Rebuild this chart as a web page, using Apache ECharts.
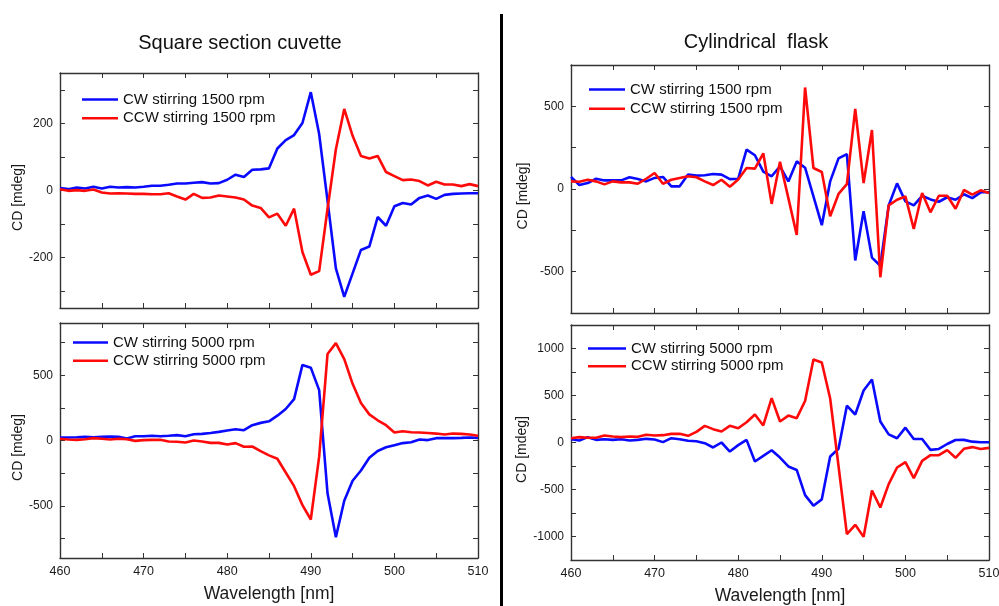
<!DOCTYPE html>
<html><head><meta charset="utf-8">
<script src="https://cdn.jsdelivr.net/npm/echarts@6/dist/echarts.min.js"></script>
<style>html,body{margin:0;padding:0;background:#fff}#c{width:999px;height:606px}</style>
</head><body><div id="c"></div>
<script>
// ---------- data ----------
const wavelengths = [460,461,462,463,464,465,466,467,468,469,470,471,472,473,474,475,476,477,478,479,480,481,482,483,484,485,486,487,488,489,490,491,492,493,494,495,496,497,498,499,500,501,502,503,504,505,506,507,508,509,510];

const cuvetteCW1500  = [7,4,9,6,11,6,11,9,10,9, 11,14,14,17,21,21,23,25,21,22, 32,47,40,62,63,66,125,150,165,201, 293,168,-30,-232,-317,-247,-177,-167,-79,-105, -47,-37,-42,-22,-15,-25,-13,-10,-9,-8,-8];
const cuvetteCCW1500 = [4,-1,1,-1,3,-6,-9,-8,-9,-10, -10,-11,-11,-8,-18,-27,-10,-22,-21,-15, -18,-21,-27,-45,-52,-80,-69,-105,-54,-183, -251,-240,-55,123,243,163,103,95,103,55, 43,31,33,28,15,26,18,18,13,19,13];
const cuvetteCW5000  = [23,23,25,28,25,28,30,28,15,33, 33,36,33,36,41,33,48,51,58,66, 76,86,79,117,135,147,190,241,317,579, 558,386,-404,-741,-462,-308,-230,-132,-80,-52, -36,-20,-13,8,3,18,18,18,20,23,20];
const cuvetteCCW5000 = [13,8,5,10,18,13,8,13,10,-3, 3,5,5,-8,-10,-15,0,-8,-18,-18, -30,-20,-48,-46,-81,-114,-140,-245,-350,-495, -605,-124,662,746,624,434,287,200,155,117, 61,71,63,61,58,53,46,53,51,46,36];
const flaskCW1500    = [73,24,36,62,52,52,52,71,60,46, 67,73,16,16,87,81,83,91,87,60, 62,238,204,105,77,137,46,167,129,-45, -219,46,185,211,-432,-135,-415,-464,-100,34, -75,-99,-41,-63,-77,-50,-65,-32,-55,-20,-20];
const flaskCCW1500   = [46,44,56,46,28,46,40,40,32,62, 97,32,56,67,77,71,46,24,56,14, 58,127,123,216,-90,165,-55,-278,614,127, 103,-165,-30,30,485,36,357,-534,-99,-65, -45,-242,-24,-141,-41,-41,-119,-6,-34,-8,-24];
const flaskCW5000    = [35,21,57,28,35,28,35,21,28,39, 32,4,46,35,18,14,-7,-53,0,-96, -28,28,-202,-142,-82,-160,-255,-292,-560,-672, -605,-149,-67,392,298,553,670,224,86,45, 158,37,37,-78,-69,-16,27,28,9,2,2];
const flaskCCW5000   = [46,57,50,50,74,64,57,64,60,82, 74,78,92,92,71,113,177,142,117,177, 152,216,298,181,472,223,286,259,442,883, 851,468,-250,-975,-876,-1004,-511,-692,-443,-266, -209,-379,-195,-135,-135,-81,-163,-67,-49,-70,-57];

const seriesNames = ['CW stirring 1500 rpm','CCW stirring 1500 rpm','CW stirring 5000 rpm','CCW stirring 5000 rpm'];
const panelTitles = ['Square section cuvette','Cylindrical  flask'];
const xTickValues  = [460,465,470,475,480,485,490,495,500,505,510];
const xLabelValues = [460,470,480,490,500,510];
const yTicksCuvette1500 = [-300,-200,-100,0,100,200,300];
const yLabelsCuvette1500 = [-200,0,200];
const yTicksCuvette5000 = [-750,-500,-250,0,250,500,750];
const yLabelsCuvette5000 = [-500,0,500];
const yTicksFlask1500 = [-500,-250,0,250,500];
const yLabelsFlask1500 = [-500,0,500];
const yTicksFlask5000 = [-1000,-750,-500,-250,0,250,500,750,1000];
const yLabelsFlask5000 = [-1000,-500,0,500,1000];

// ---------- style / layout ----------
const FONT = '"Liberation Sans", Arial, sans-serif';
const BLUE = '#0a0aff', RED = '#ff0a0a', FRAME = '#333';

const panels = [
  {grid:{left:60,top:73,width:418,height:235}, ymin:-350,ymax:350, ticks:yTicksCuvette1500, labels:yLabelsCuvette1500, xLabels:false,
   cw:cuvetteCW1500, ccw:cuvetteCCW1500, names:[seriesNames[0],seriesNames[1]], legend:{left:82,top:91,itemWidth:36,itemGap:1.7}, nameGap:34},
  {grid:{left:60,top:323,width:418,height:235}, ymin:-900,ymax:900, ticks:yTicksCuvette5000, labels:yLabelsCuvette5000, xLabels:true,
   cw:cuvetteCW5000, ccw:cuvetteCCW5000, names:[seriesNames[2],seriesNames[3]], legend:{left:73,top:334,itemWidth:35,itemGap:1.3}, nameGap:34},
  {grid:{left:571,top:65,width:418,height:248}, ymin:-750,ymax:750, ticks:yTicksFlask1500, labels:yLabelsFlask1500, xLabels:false,
   cw:flaskCW1500, ccw:flaskCCW1500, names:[seriesNames[0],seriesNames[1]], legend:{left:589,top:81,itemWidth:36,itemGap:2.3}, nameGap:41},
  {grid:{left:571,top:325,width:418,height:235}, ymin:-1250,ymax:1250, ticks:yTicksFlask5000, labels:yLabelsFlask5000, xLabels:true,
   cw:flaskCW5000, ccw:flaskCCW5000, names:[seriesNames[2],seriesNames[3]], legend:{left:588,top:340,itemWidth:38,itemGap:0.7}, nameGap:41}
];

const grid = [], xAxis = [], yAxis = [], series = [], legend = [];
const axisLine = {show:true, onZero:false, lineStyle:{color:FRAME, width:1.4}};
const tickStyle = {color:FRAME, width:1};
const plain = v => String(v);

panels.forEach((p, i) => {
  grid.push(Object.assign({show:false, containLabel:false, outerBoundsMode:'none'}, p.grid));
  xAxis.push({
    type:'value', gridIndex:i, position:'bottom', min:460, max:510,
    axisLine, splitLine:{show:false},
    axisTick:{show:true, inside:true, length:5, lineStyle:tickStyle, customValues:xTickValues},
    axisLabel:{show:p.xLabels, customValues:xLabelValues, formatter:plain, margin:7, fontFamily:FONT, fontSize:12.5, color:'#1a1a1a', hideOverlap:false},
    name:p.xLabels ? 'Wavelength [nm]' : '', nameLocation:'middle', nameGap:27,
    nameTextStyle:{fontFamily:FONT, fontSize:17.5, color:'#1a1a1a'}
  });
  xAxis.push({
    type:'value', gridIndex:i, position:'top', min:460, max:510,
    axisLine, splitLine:{show:false},
    axisTick:{show:true, inside:true, length:5, lineStyle:tickStyle, customValues:xTickValues},
    axisLabel:{show:false}
  });
  yAxis.push({
    type:'value', gridIndex:i, position:'left', min:p.ymin, max:p.ymax,
    axisLine, splitLine:{show:false},
    axisTick:{show:true, inside:true, length:5, lineStyle:tickStyle, customValues:p.ticks},
    axisLabel:{show:true, customValues:p.labels, formatter:plain, margin:7, fontFamily:FONT, fontSize:12, color:'#1a1a1a'},
    name:'CD [mdeg]', nameLocation:'middle', nameGap:p.nameGap,
    nameTextStyle:{fontFamily:FONT, fontSize:14, color:'#1a1a1a', padding:[0,14,0,0]}
  });
  yAxis.push({
    type:'value', gridIndex:i, position:'right', min:p.ymin, max:p.ymax,
    axisLine, splitLine:{show:false},
    axisTick:{show:true, inside:true, length:5, lineStyle:tickStyle, customValues:p.ticks},
    axisLabel:{show:false}
  });
  const mk = (name, vals, color) => ({
    name, type:'line', xAxisIndex:2*i, yAxisIndex:2*i,
    data: wavelengths.map((w, k) => [w, vals[k]]),
    symbol:'none', showSymbol:false, lineStyle:{color, width:2.6}, itemStyle:{color},
    silent:true, z:2
  });
  series.push(mk(p.names[0], p.cw, BLUE));
  series.push(mk(p.names[1], p.ccw, RED));
  legend.push({
    orient:'vertical', left:p.legend.left, top:p.legend.top, padding:0,
    icon:'rect', itemWidth:p.legend.itemWidth, itemHeight:2.6, itemGap:p.legend.itemGap,
    data:[p.names[0], p.names[1]],
    textStyle:{fontFamily:FONT, fontSize:15, color:'#111', lineHeight:17, height:17},
    selectedMode:false
  });
});

const chart = echarts.init(document.getElementById('c'), null, {renderer:'canvas'});
chart.setOption({
  animation:false,
  backgroundColor:'#fff',
  grid, xAxis, yAxis, series, legend,
  graphic:[
    {type:'text', x:240, y:43, style:{text:panelTitles[0], fontFamily:FONT, fontSize:20, fill:'#111', textAlign:'center', textVerticalAlign:'middle'}},
    {type:'text', x:756, y:42, style:{text:panelTitles[1], fontFamily:FONT, fontSize:20, fill:'#111', textAlign:'center', textVerticalAlign:'middle'}},
    {type:'line', shape:{x1:501.5, y1:14, x2:501.5, y2:606}, style:{stroke:'#000', lineWidth:3}}
  ]
});
</script></body></html>
